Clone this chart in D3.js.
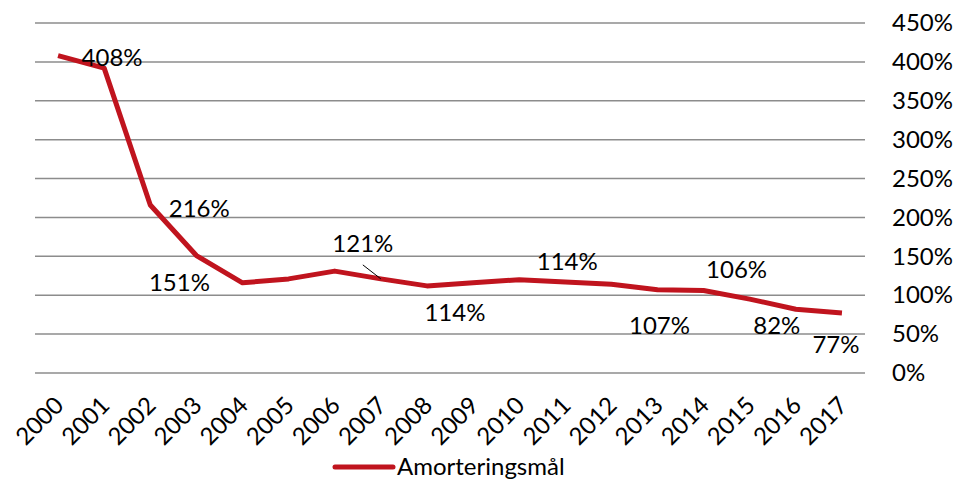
<!DOCTYPE html>
<html>
<head>
<meta charset="utf-8">
<script src="https://cdn.jsdelivr.net/npm/d3@7"></script>
<style>
  body { margin: 0; background: #fff; }
  svg text { font-family: Lato, "Open Sans", sans-serif; fill: #000; }
</style>
</head>
<body>
<svg id="chart"></svg>
<script>
// data
const years = ['2000','2001','2002','2003','2004','2005','2006','2007','2008',
  '2009','2010','2011','2012','2013','2014','2015','2016','2017'];
const amortering = [408, 392, 216, 151, 116, 121, 131, 121, 112,
  116, 120, 117, 114, 107, 106, 95, 82, 77];
const yTicks = [0, 50, 100, 150, 200, 250, 300, 350, 400, 450];
const labelYears = ['2000','2002','2003','2007','2008','2011','2013','2014','2016','2017'];
const labelTexts = ['408%','216%','151%','121%','114%','114%','107%','106%','82%','77%'];
const seriesName = 'Amorteringsmål';

const W = 957, H = 480;
const plot = { left: 35, right: 865, top: 23, bottom: 373 };
const red = '#c0141e';

// label offsets from their point (dx, dy of the text baseline centre)
const labelOffsets = [[54, 10], [49, 12], [-17, 35], [-18, -27], [28, 35],
  [2, -12], [2, 44], [33, -13], [-19, 25], [-6, 40]];

const svg = d3.select('#chart').attr('width', W).attr('height', H);

const x = d3.scaleBand().domain(years).range([plot.left, plot.right]);
const y = d3.scaleLinear().domain([0, 450]).range([plot.bottom, plot.top]);
const cx = d => x(d) + x.bandwidth() / 2;

// gridlines
svg.append('g')
  .selectAll('line')
  .data(yTicks)
  .enter().append('line')
  .attr('x1', plot.left).attr('x2', plot.right)
  .attr('y1', d => y(d)).attr('y2', d => y(d))
  .attr('stroke', '#8c8c8c')
  .attr('stroke-width', 1.5);

// right axis labels
const yAxis = svg.append('g')
  .attr('transform', `translate(${plot.right + 27},0)`)
  .call(d3.axisRight(y).tickValues(yTicks).tickFormat(d => d + '%').tickSize(0).tickPadding(0));
yAxis.select('.domain').remove();
yAxis.selectAll('text')
  .style('font-family', 'Lato, sans-serif')
  .style('font-size', '24px')
  .attr('fill', '#000');

// x axis labels
const xAxis = svg.append('g')
  .attr('transform', `translate(0,${plot.bottom})`)
  .call(d3.axisBottom(x).tickSize(0).tickPadding(0));
xAxis.select('.domain').remove();
xAxis.selectAll('text')
  .style('font-family', 'Lato, sans-serif')
  .style('font-size', '24px')
  .attr('fill', '#000')
  .style('text-anchor', 'end')
  .attr('dy', '0')
  .attr('transform', 'translate(7,34) rotate(-45)');

// line
const line = d3.line()
  .x((d, i) => cx(years[i]))
  .y(d => y(d));

svg.append('path')
  .datum(amortering)
  .attr('d', line)
  .attr('fill', 'none')
  .attr('stroke', red)
  .attr('stroke-width', 5)
  .attr('stroke-linejoin', 'round');

// data labels
const labels = labelYears.map((yr, i) => {
  const idx = years.indexOf(yr);
  return { px: cx(yr), py: y(amortering[idx]), text: labelTexts[i], off: labelOffsets[i] };
});

svg.append('g')
  .selectAll('text')
  .data(labels)
  .enter().append('text')
  .attr('x', d => d.px + d.off[0])
  .attr('y', d => d.py + d.off[1])
  .attr('text-anchor', 'middle')
  .style('font-size', '24px')
  .text(d => d.text);

// leader line for 121%
const lead = labels[3];
svg.append('line')
  .attr('x1', lead.px - 18).attr('y1', lead.py - 14)
  .attr('x2', lead.px).attr('y2', lead.py)
  .attr('stroke', '#000')
  .attr('stroke-width', 1);

// legend
const legend = svg.append('g').attr('transform', 'translate(335,467)');
legend.append('line')
  .attr('x1', 0).attr('x2', 58)
  .attr('stroke', red)
  .attr('stroke-width', 5)
  .attr('stroke-linecap', 'round');
legend.append('text')
  .attr('x', 62).attr('y', 8)
  .style('font-size', '24px')
  .text(seriesName);
</script>
</body>
</html>
